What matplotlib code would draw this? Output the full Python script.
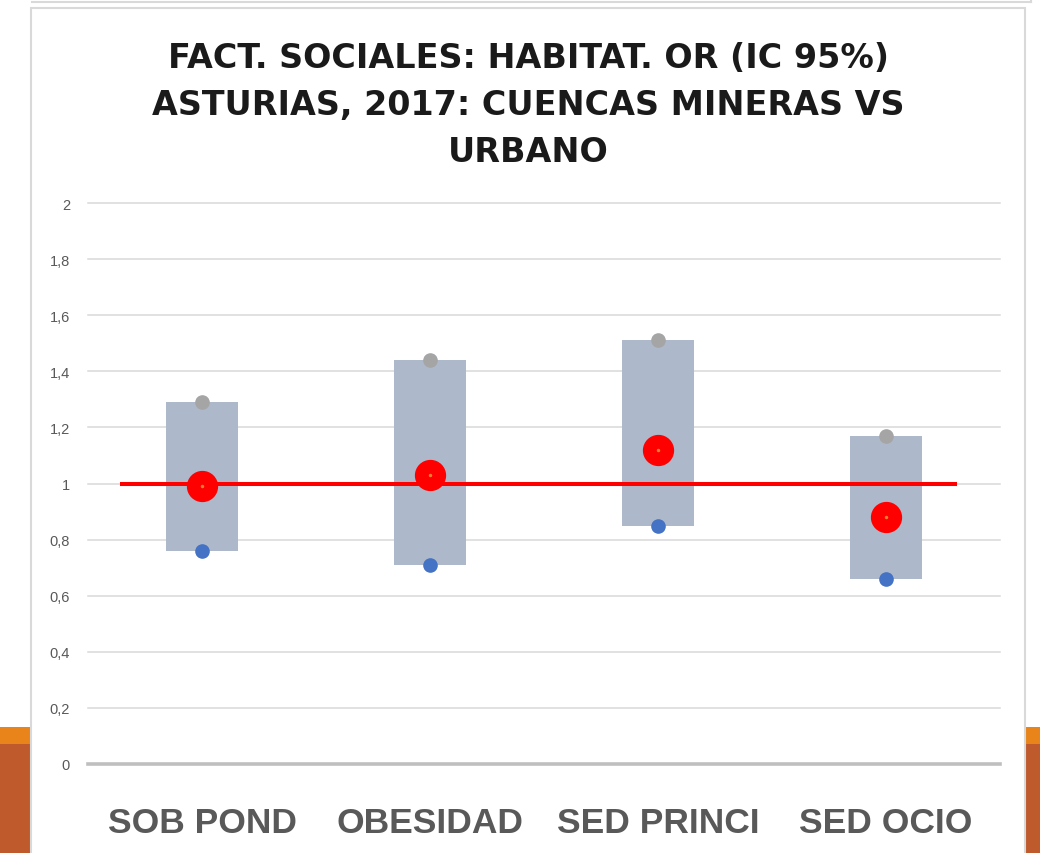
import numpy as np
import matplotlib
matplotlib.use("Agg")
import matplotlib.pyplot as plt
from matplotlib.patches import Rectangle
from matplotlib.lines import Line2D

# --- data ---
categories = ["SOB POND", "OBESIDAD", "SED PRINCI", "SED OCIO"]
or_vals = [0.99, 1.03, 1.12, 0.88]
ic_low = [0.76, 0.71, 0.85, 0.66]
ic_high = [1.29, 1.44, 1.51, 1.17]
y_ticks = [0, 0.2, 0.4, 0.6, 0.8, 1, 1.2, 1.4, 1.6, 1.8, 2]
y_labels = ["0", "0,2", "0,4", "0,6", "0,8", "1", "1,2", "1,4", "1,6", "1,8", "2"]
title_lines = ["FACT. SOCIALES: HABITAT. OR (IC 95%)",
               "ASTURIAS, 2017: CUENCAS MINERAS VS",
               "URBANO"]
ref_value = 1

W, H = 1040, 854
fig = plt.figure(figsize=(W / 100, H / 100), dpi=100)
fig.patch.set_facecolor("white")


def fx(px):
    return px / W


def fy(py):
    return 1 - py / H


# slide decoration behind the chart
fig.patches.append(Rectangle((0, fy(745)), 1, fy(728) - fy(745), transform=fig.transFigure,
                             facecolor="#E8841A", edgecolor="none", zorder=-10))
fig.patches.append(Rectangle((0, 0), 1, fy(745), transform=fig.transFigure,
                             facecolor="#BE5A2C", edgecolor="none", zorder=-10))
# chart frame
fig.patches.append(Rectangle((fx(31), fy(860)), fx(1025) - fx(31), fy(9) - fy(860),
                             transform=fig.transFigure, facecolor="white",
                             edgecolor="#D9D9D9", linewidth=1.5, zorder=-5))
# previous box at the very top
fig.lines.append(Line2D([fx(32), fx(1031)], [fy(3), fy(3)], transform=fig.transFigure,
                        color="#D9D9D9", linewidth=1.5, zorder=-5))
fig.lines.append(Line2D([fx(1031), fx(1031)], [fy(3), 1.01], transform=fig.transFigure,
                        color="#D9D9D9", linewidth=1.5, zorder=-5))

ax = fig.add_axes([fx(88), fy(765), fx(1000) - fx(88), fy(204) - fy(765)])
ax.patch.set_visible(False)
for s in ax.spines.values():
    s.set_visible(False)

x = np.arange(len(categories))
low = np.array(ic_low)
high = np.array(ic_high)

# gridlines and base axis
for yv in y_ticks[1:]:
    ax.axhline(yv, color="#D9D9D9", linewidth=1.1, zorder=1, clip_on=False)
ax.axhline(0, color="#BFBFBF", linewidth=2.6, zorder=1, clip_on=False)

ax.bar(x, high - low, bottom=low, width=0.315, color="#ADB9CA", zorder=2)
ax.plot(x, high, "o", color="#A5A5A5", markersize=9.5, zorder=3)
ax.plot(x, low, "o", color="#4472C4", markersize=9.5, zorder=3)
ax.hlines(ref_value, -0.36, 3.31, color="#FF0000", linewidth=2.9, zorder=4)
ax.plot(x, or_vals, "o", color="#FF0000", markersize=21.5, zorder=5)
ax.plot(x, or_vals, "o", color="#ED7D31", markersize=1.5, zorder=6)

ax.set_xlim(-0.5, 3.5)
ax.set_ylim(0, 2)
ax.set_yticks(y_ticks, y_labels)
ax.set_xticks(x, categories)
ax.tick_params(axis="y", length=0, pad=13, labelsize=10.5, labelcolor="#595959")
ax.tick_params(axis="x", length=0, pad=30, labelcolor="#595959")
for lab in ax.get_xticklabels():
    lab.set_family(["Liberation Sans", "DejaVu Sans"])
    lab.set_fontsize(25.5)
    lab.set_fontweight("bold")
for lab in ax.get_yticklabels():
    lab.set_family(["Liberation Sans", "DejaVu Sans"])

for line, yb in zip(title_lines, [68, 115, 162]):
    fig.text(fx(528), fy(yb), line, ha="center", va="baseline", fontsize=24,
             fontweight="bold", color="#1A1A1A", family=["DejaVu Sans"])

fig.savefig("out.png", dpi=100)
